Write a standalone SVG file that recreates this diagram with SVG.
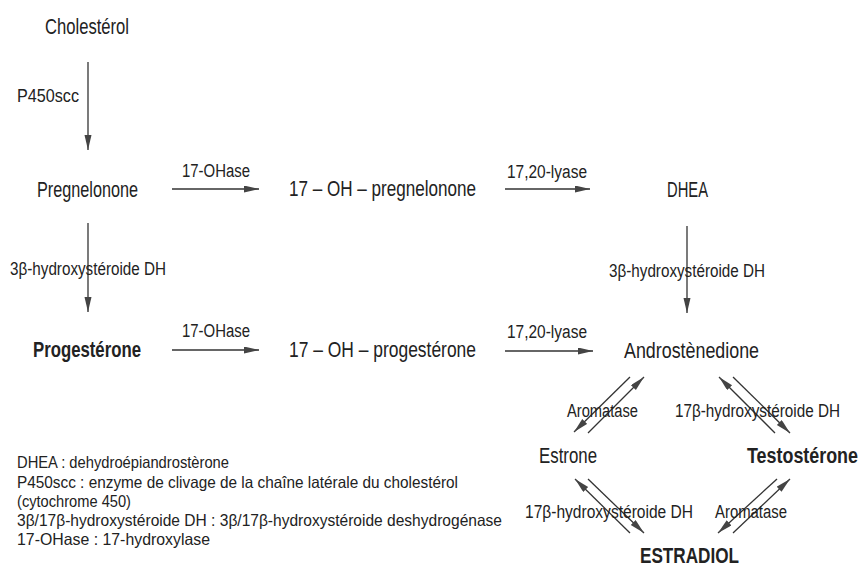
<svg xmlns="http://www.w3.org/2000/svg" width="864" height="570" viewBox="0 0 864 570">
<style>
text{font-family:"Liberation Sans","DejaVu Sans",sans-serif;fill:#222}
.n{font-size:22px}
.b{font-size:22px;font-weight:bold}
.e{font-size:18px}
.l{font-size:16.5px}
.c{stroke:#333;stroke-width:1.3;fill:none;marker-end:url(#ah)}
</style>
<defs>
<marker id="ah" markerUnits="userSpaceOnUse" markerWidth="16" markerHeight="8" refX="15" refY="3.5" orient="auto">
<path d="M0,0 L15,3.5 L0,7 Z" fill="#444"/>
</marker>
</defs>
<rect width="864" height="570" fill="#fff"/>
<g id="connectors">
<path class="c" d="M88,62 V150"/>
<path class="c" d="M88,223 V312"/>
<path class="c" d="M687,226 V313"/>
<path class="c" d="M172,189 H259"/>
<path class="c" d="M505,189 H590"/>
<path class="c" d="M172,350 H259"/>
<path class="c" d="M505,351 H593"/>
<path class="c" d="M630,377 L574,432"/>
<path class="c" d="M588,433 L644,377"/>
<path class="c" d="M775,433 L719,377"/>
<path class="c" d="M733,377 L790,433"/>
<path class="c" d="M630,533 L575,479"/>
<path class="c" d="M588,479 L644,533"/>
<path class="c" d="M777,479 L718,533"/>
<path class="c" d="M733,533 L790,479"/>
</g>
<g id="labels">
<text class="e" x="17" y="102" textLength="62" lengthAdjust="spacingAndGlyphs">P450scc</text>
<text class="e" x="182" y="177" textLength="68" lengthAdjust="spacingAndGlyphs">17-OHase</text>
<text class="e" x="507" y="178" textLength="80" lengthAdjust="spacingAndGlyphs">17,20-lyase</text>
<text class="e" x="10" y="275" textLength="156" lengthAdjust="spacingAndGlyphs">3β-hydroxystéroide DH</text>
<text class="e" x="609" y="277" textLength="156" lengthAdjust="spacingAndGlyphs">3β-hydroxystéroide DH</text>
<text class="e" x="182" y="337" textLength="68" lengthAdjust="spacingAndGlyphs">17-OHase</text>
<text class="e" x="507" y="338" textLength="80" lengthAdjust="spacingAndGlyphs">17,20-lyase</text>
<text class="e" x="567" y="417" textLength="71" lengthAdjust="spacingAndGlyphs">Aromatase</text>
<text class="e" x="675" y="417" textLength="165" lengthAdjust="spacingAndGlyphs">17β-hydroxystéroide DH</text>
<text class="e" x="525" y="518" textLength="168" lengthAdjust="spacingAndGlyphs">17β-hydroxystéroide DH</text>
<text class="e" x="715" y="518" textLength="72" lengthAdjust="spacingAndGlyphs">Aromatase</text>
</g>
<g id="cholesterol"><text class="n" x="45" y="34" textLength="84" lengthAdjust="spacingAndGlyphs">Cholestérol</text></g>
<g id="pregnelonone"><text class="n" x="37" y="197" textLength="101" lengthAdjust="spacingAndGlyphs">Pregnelonone</text></g>
<g id="oh-pregnelonone"><text class="n" x="289" y="196" textLength="187" lengthAdjust="spacingAndGlyphs">17 – OH – pregnelonone</text></g>
<g id="dhea"><text class="n" x="667" y="197" textLength="41" lengthAdjust="spacingAndGlyphs">DHEA</text></g>
<g id="progesterone"><text class="b" x="33" y="357" textLength="108" lengthAdjust="spacingAndGlyphs">Progestérone</text></g>
<g id="oh-progesterone"><text class="n" x="289" y="357" textLength="187" lengthAdjust="spacingAndGlyphs">17 – OH – progestérone</text></g>
<g id="androstenedione"><text class="n" x="624" y="358" textLength="135" lengthAdjust="spacingAndGlyphs">Androstènedione</text></g>
<g id="estrone"><text class="n" x="539" y="463" textLength="58" lengthAdjust="spacingAndGlyphs">Estrone</text></g>
<g id="testosterone"><text class="b" x="747" y="463" textLength="111" lengthAdjust="spacingAndGlyphs">Testostérone</text></g>
<g id="estradiol"><text class="b" x="640" y="563" textLength="99" lengthAdjust="spacingAndGlyphs">ESTRADIOL</text></g>
<g id="legend">
<text class="l" x="17" y="468" textLength="212" lengthAdjust="spacingAndGlyphs">DHEA : dehydroépiandrostèrone</text>
<text class="l" x="17" y="488" textLength="441" lengthAdjust="spacingAndGlyphs">P450scc : enzyme de clivage de la chaîne latérale du cholestérol</text>
<text class="l" x="17" y="507" textLength="114" lengthAdjust="spacingAndGlyphs">(cytochrome 450)</text>
<text class="l" x="17" y="526" textLength="485" lengthAdjust="spacingAndGlyphs">3β/17β-hydroxystéroide DH : 3β/17β-hydroxystéroide deshydrogénase</text>
<text class="l" x="17" y="545" textLength="193" lengthAdjust="spacingAndGlyphs">17-OHase : 17-hydroxylase</text>
</g>
</svg>
